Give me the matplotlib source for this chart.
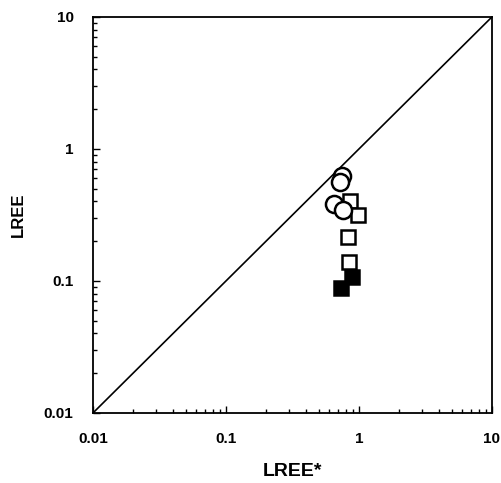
import matplotlib
matplotlib.use("Agg")
import matplotlib.pyplot as plt
import numpy as np

plt.rcParams['font.family'] = ['Liberation Sans', 'DejaVu Sans']
plt.rcParams['font.weight'] = 'bold'

# open circles
circ_x = [0.74, 0.72, 0.65, 0.76]
circ_y = [0.62, 0.56, 0.38, 0.345]
# open squares
sq_x = [0.86, 0.98, 0.83, 0.845]
sq_y = [0.40, 0.316, 0.217, 0.14]
# filled squares
fsq_x = [0.88, 0.73]
fsq_y = [0.108, 0.089]

fig = plt.figure(figsize=(5.01, 4.83), dpi=100)
ax = fig.add_axes([0.1856, 0.145, 0.7964, 0.82])

ax.plot([0.01, 10], [0.01, 10], color='black', lw=1.2)
ax.plot(sq_x, sq_y, 's', ms=10, mfc='white', mec='black', mew=1.8, ls='none')
ax.plot(fsq_x, fsq_y, 's', ms=10, mfc='black', mec='black', mew=1.8, ls='none')
ax.plot(circ_x, circ_y, 'o', ms=12.3, mfc='white', mec='black', mew=1.8, ls='none')

ax.set_xscale('log')
ax.set_yscale('log')
ax.set_xlim(0.01, 10)
ax.set_ylim(0.01, 10)
ax.set_xticks([0.01, 0.1, 1, 10])
ax.set_xticklabels(['0.01', '0.1', '1', '10'])
ax.set_yticks([0.01, 0.1, 1, 10])
ax.set_yticklabels(['0.01', '0.1', '1', '10'])
ax.tick_params(which='both', direction='in', top=False, right=False)
ax.tick_params(which='major', length=5, width=1, labelsize=11, pad=14)
ax.tick_params(which='minor', length=3, width=1)
for s in ax.spines.values():
    s.set_linewidth(1.3)

ax.set_xlabel('LREE*', fontsize=14, fontweight='bold', labelpad=12)
ax.set_ylabel('LREE', fontsize=12, fontweight='bold', labelpad=13)

fig.savefig('out.png', dpi=100)
